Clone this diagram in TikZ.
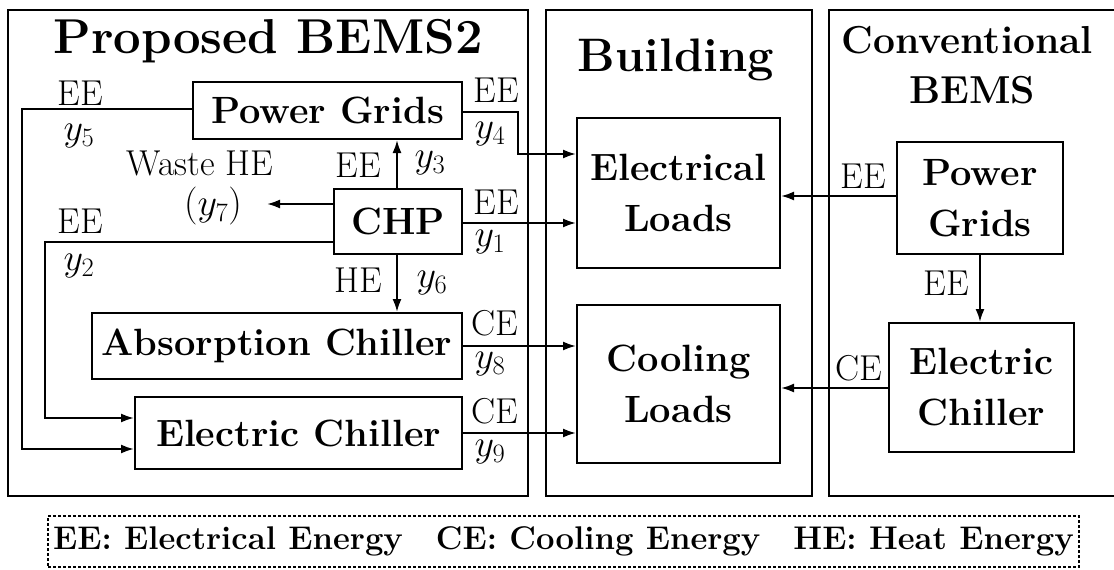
\RequirePackage{fix-cm}
\documentclass[tikz,border=0pt]{standalone}
\usetikzlibrary{arrows.meta,calc}
\tikzset{
  panel/.style={draw, line width=2pt, inner sep=0pt},
  box/.style={draw, line width=2pt, inner sep=0pt, align=center,
    font=\fontsize{38}{51}\selectfont\bfseries},
  ttl/.style={inner sep=0pt, anchor=base, align=center},
  lbl/.style={inner sep=0pt, font=\fontsize{36}{40}\selectfont},
  mlbl/.style={inner sep=0pt, font=\fontsize{38}{42}\selectfont},
  ln/.style={line width=2pt},
  arr/.style={line width=2pt, -{Latex[length=13pt,width=9pt]}},
  legendbox/.style={draw, line width=1.3pt, dash pattern=on 3pt off 2pt,
    inner sep=0pt, font=\fontsize{32.8}{36}\selectfont\bfseries}
}
\begin{document}
\begin{tikzpicture}[x=1pt,y=-1pt]
\useasboundingbox (0,0) rectangle (1114,570);
% panels
\node[panel, minimum width=520, minimum height=486] (pL) at (268,253) {};
\node[panel, minimum width=266, minimum height=486] (pM) at (679,253) {};
\node[panel, minimum width=288, minimum height=486] (pR) at (973,253) {};
% titles
\node[ttl, font=\fontsize{49}{50}\selectfont\bfseries] (tL) at (268,53) {Proposed BEMS2};
\node[ttl, font=\fontsize{47}{50}\selectfont\bfseries] (tM) at (676,71) {Building};
\node[ttl, font=\fontsize{39}{49}\selectfont\bfseries] (tR1) at (967.5,53) {Conventional};
\node[ttl, font=\fontsize{39}{49}\selectfont\bfseries] (tR2) at (972,103) {BEMS};
% boxes left
\node[box, minimum width=269, minimum height=57] (pg) at (327.5,110.5) {Power Grids};
\node[box, minimum width=128, minimum height=65] (chp) at (398,221.5) {CHP};
\node[box, minimum width=370, minimum height=66] (ac) at (277,346) {Absorption Chiller};
\node[box, minimum width=327, minimum height=72] (ec) at (298.5,433) {Electric Chiller};
% building
\node[box, minimum width=203, minimum height=150] (el) at (678.5,193) {Electrical\\Loads};
\node[box, minimum width=203, minimum height=158] (cl) at (678.5,384) {Cooling\\Loads};
% conventional
\node[box, minimum width=166, minimum height=112] (rpg) at (980,198) {Power\\Grids};
\node[box, minimum width=185, minimum height=129] (rec) at (981.5,387.5) {Electric\\Chiller};
% coordinates
\coordinate (c5a) at (22,112);
\coordinate (c2a) at (45,242);
\coordinate (c4a) at (518,112);
\coordinate (c4b) at (518,154);
\coordinate (wst) at (267,204);
% connectors left panel
\draw[arr] ([yshift=1.5pt]pg.west) -| (c5a) |- ([yshift=-16pt]ec.west);
\draw[arr] ([yshift=-20.5pt]chp.west) -| (c2a) |- ([yshift=15pt]ec.west);
\draw[arr] ([yshift=17.5pt]chp.west) -- (wst);
\draw[arr] (chp.north -| 397,0) -- (pg.south -| 397,0);
\draw[arr] (chp.south -| 397,0) -- (ac.north -| 397,0);
\draw[arr] ([yshift=-1.5pt]pg.east) -- (c4a) -- (c4b) -- (c4b -| el.west);
\draw[arr] ([yshift=-1.5pt]chp.east) -- ([yshift=-1.5pt]chp.east -| el.west);
\draw[arr] (ac.east) -- (ac.east -| cl.west);
\draw[arr] (ec.east) -- (ec.east -| cl.west);
% connectors right panel
\draw[arr] ([yshift=2pt]rpg.west) -- ([yshift=2pt]rpg.west -| el.east);
\draw[arr] (rpg.south) -- (rpg.south |- rec.north);
\draw[arr] ([yshift=-0.5pt]rec.west) -- ([yshift=-0.5pt]rec.west -| cl.east);
% labels
\node[lbl, anchor=base] (l5e) at (80,105) {EE};
\node[mlbl] (l5y) at (79,136) {$y_5$};
\node[lbl, anchor=base] (l2e) at (80,233) {EE};
\node[mlbl] (l2y) at (79,266) {$y_2$};
\node[lbl, anchor=base] (w1) at (200,175) {Waste HE};
\node[mlbl] (w2) at (213,206) {$(y_7)$};
\node[lbl, anchor=base] (l3e) at (358,177) {EE};
\node[mlbl] (l3y) at (430,163) {$y_3$};
\node[lbl, anchor=base] (l6e) at (358,292) {HE};
\node[mlbl] (l6y) at (432,283) {$y_6$};
\node[lbl, anchor=base] (l4e) at (496,102) {EE};
\node[mlbl] (l4y) at (490,134) {$y_4$};
\node[lbl, anchor=base] (l1e) at (496,214) {EE};
\node[mlbl] (l1y) at (490,242) {$y_1$};
\node[lbl, anchor=base] (l8e) at (495,335) {CE};
\node[mlbl] (l8y) at (490,364) {$y_8$};
\node[lbl, anchor=base] (l9e) at (495,423) {CE};
\node[mlbl] (l9y) at (490,452) {$y_9$};
\node[lbl, anchor=base] (r1) at (863,188) {EE};
\node[lbl, anchor=base] (r2) at (946,295) {EE};
\node[lbl, anchor=base] (r3) at (859,380) {CE};
% legend
\node[legendbox, minimum width=1031, minimum height=51] (leg) at (563.5,541.5)
  {EE: Electrical Energy\hspace{33pt}CE: Cooling Energy\hspace{33pt}HE: Heat Energy};
\end{tikzpicture}
\end{document}
